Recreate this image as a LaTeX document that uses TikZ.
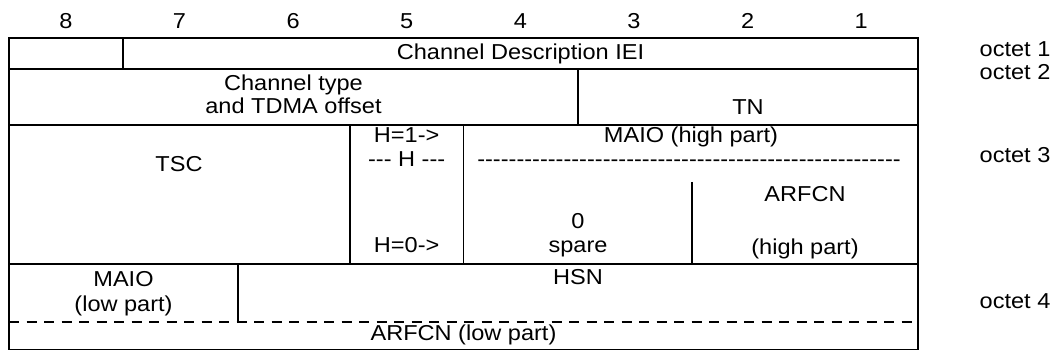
\documentclass[tikz,border=0pt]{standalone}
\usepackage{fontspec}
\setmainfont{Liberation Sans}[FakeStretch=1.09]
\usetikzlibrary{positioning}
\newcommand\hy{\mbox{-}}
\newcommand\hyrun[1]{\foreach \k in {1,...,#1}{\hy}}

\begin{document}
\begin{tikzpicture}[x=0.5pt,y=-0.5pt,line width=0.7pt,
  lbl/.style={inner sep=0pt,anchor=base,font=\fontsize{10.8}{13}\selectfont},
  octet/.style={lbl,anchor=base west},
  dashline/.style={dash pattern=on 5pt off 3.75pt}]
\useasboundingbox (0,0) rectangle (1055,352);
% bit numbers
\foreach \b[count=\i] in {8,7,...,1} {
  \node[lbl] (bit\b) at (9+113.625*\i-56.8,29) {\b};
}
% frame and rows
\draw (9,38) rectangle (918,349.5);
\foreach \r in {69,125,264} {
  \draw (9,\r) -- (918,\r);
}
\draw[dashline] (9,322) -- (918,322);
% cell dividers
\foreach \x/\ya/\yb in {123/38/69,578/69/125,349.9/125/264,463.5/125/264,692/182/264,238/264/322} {
  \draw (\x,\ya) -- (\x,\yb);
}
% octet 1 and 2
\node[lbl] (iei) at (520.5,59.5) {Channel Description IEI};
\node[lbl] (chtype) at (293.5,91) {Channel type};
\node[lbl] (tdma) at (293.5,114) {and TDMA offset};
\node[lbl] (tn) at (748,115) {TN};
% octet 3
\node[lbl] (tsc) at (179,172) {TSC};
\node[lbl] (h1) at (406.7,143) {H=1->};
\node[lbl] (hmid) at (406.7,166.7) {\hy\hy\hy{} H \hy\hy\hy};
\node[lbl] (h0) at (406.7,253) {H=0->};
\node[lbl] (maiohi) at (691,143) {MAIO (high part)};
\node[lbl] (hyline) at (689,166.7) {\hyrun{54}};
\node[lbl] (zero) at (578,229) {0};
\node[lbl] (spare) at (578,253) {spare};
\node[lbl] (arfcnhi) at (805,201.5) {ARFCN};
\node[lbl] (highpart) at (805,255) {(high part)};
% octet 4
\node[lbl] (maiolo) at (123.5,286.5) {MAIO};
\node[lbl] (lowpart) at (123.5,311.5) {(low part)};
\node[lbl] (hsn) at (578,285) {HSN};
\node[lbl] (arfcnlo) at (463.5,341) {ARFCN (low part)};
% octet labels
\foreach \n/\y in {1/56.7,2/80,3/162.7,4/308} {
  \node[octet] (oct\n) at (979,\y) {octet \n};
}
\end{tikzpicture}
\end{document}
